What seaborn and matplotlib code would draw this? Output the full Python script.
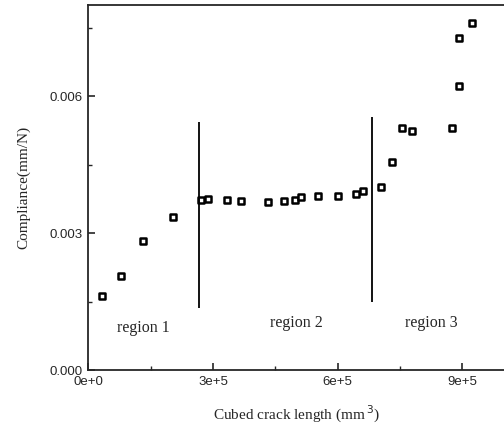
import numpy as np
import pandas as pd
import matplotlib
matplotlib.use("Agg")
import matplotlib.pyplot as plt
from matplotlib.ticker import FixedLocator, FixedFormatter, MultipleLocator
import seaborn as sns

# datos
crack_cubed = [33600, 79200, 132000, 204000, 271200, 288000, 333600, 367200,
               432000, 470400, 496800, 511200, 552000, 600000, 643200, 660000,
               703200, 729600, 753600, 777600, 876000, 892800, 892800, 924000]
compliance = [0.00162, 0.00206, 0.00283, 0.00335, 0.00372, 0.00375, 0.00372, 0.00370,
              0.00368, 0.00370, 0.00372, 0.00379, 0.00381, 0.00381, 0.00385, 0.00392,
              0.00401, 0.00456, 0.00530, 0.00523, 0.00530, 0.00622, 0.00729, 0.00760]

x_ticks = [0, 3e5, 6e5, 9e5]
x_labels = ['0e+0', '3e+5', '6e+5', '9e+5']
y_ticks = [0.0, 0.003, 0.006]
y_labels = ['0.000', '0.003', '0.006']

# limites entre regiones
boundaries = [266400, 681600]
boundary_low = [0.00136, 0.00149]
boundary_high = [0.00543, 0.00554]
region_names = ['region 1', 'region 2', 'region 3']
region_x = [132000, 501600, 825600]
region_y = [0.00092, 0.00103, 0.00103]

df = pd.DataFrame({'x': crack_cubed, 'y': compliance})

sns.set_style("ticks")
plt.rcParams['font.family'] = ['Liberation Sans', 'DejaVu Sans']
serif = ['Liberation Serif', 'DejaVu Serif']

fig = plt.figure(figsize=(5.04, 4.29), dpi=100)
ax = fig.add_axes([0.175, 0.1375, 0.825, 0.8505])

sns.scatterplot(data=df, x='x', y='y', ax=ax, marker='s', s=16,
                facecolor='white', edgecolor='black', linewidth=1.8)

for bx, lo, hi in zip(boundaries, boundary_low, boundary_high):
    ax.vlines(bx, lo, hi, color='black', linewidth=1.3)

for name, tx, ty in zip(region_names, region_x, region_y):
    ax.text(tx, ty, name, ha='center', va='center', fontsize=11.5, family=serif)

ax.set_xlim(0, 1.0e6)
ax.set_ylim(0, 0.0080)
ax.xaxis.set_major_locator(FixedLocator(x_ticks))
ax.xaxis.set_major_formatter(FixedFormatter(x_labels))
ax.yaxis.set_major_locator(FixedLocator(y_ticks))
ax.yaxis.set_major_formatter(FixedFormatter(y_labels))
ax.xaxis.set_minor_locator(MultipleLocator(1.5e5))
ax.yaxis.set_minor_locator(MultipleLocator(0.0015))
ax.tick_params(which='major', direction='in', length=5, width=1.2, labelsize=9.5, pad=4)
ax.tick_params(which='minor', direction='in', length=3, width=1.0)

for side in ['left', 'bottom', 'top']:
    ax.spines[side].set_linewidth(1.3)
ax.spines['right'].set_visible(False)

ax.set_xlabel('Cubed crack length (mm$^{\\,3}$)', fontsize=11, family=serif, labelpad=12)
ax.set_ylabel('Compliance(mm/N)', fontsize=11, family=serif, labelpad=14)

fig.savefig('out.png', dpi=100)
